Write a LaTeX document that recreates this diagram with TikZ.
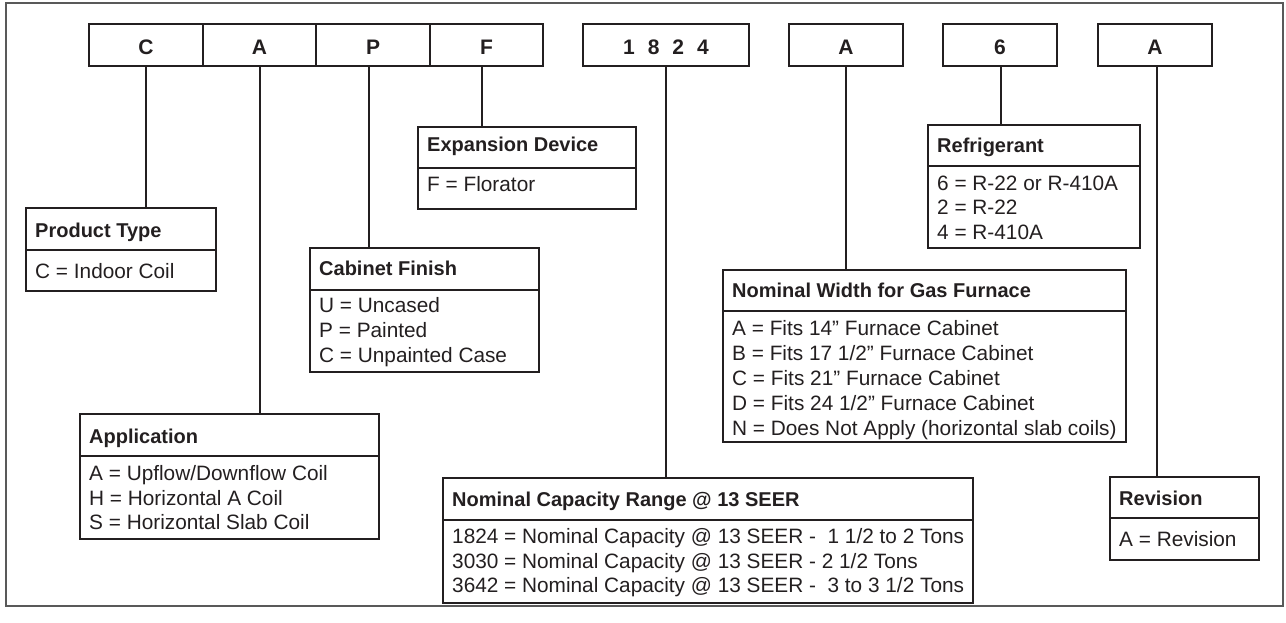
\documentclass[tikz,border=0pt]{standalone}
\usepackage{fontspec}
\setmainfont{Liberation Sans}
\definecolor{ink}{RGB}{35,31,32}
\tikzset{
  codebox/.style={draw=ink, line width=2pt, inner sep=0pt, minimum height=42pt,
    text height=18.5pt, text depth=0pt, text=ink, font=\fontsize{21}{24}\selectfont\bfseries},
  legend/.style={draw=ink, line width=2pt, inner sep=0pt},
  titletext/.style={anchor=base west, inner sep=0pt, text=ink, font=\fontsize{20}{24}\selectfont\bfseries},
  itemtext/.style={anchor=base west, inner sep=0pt, text=ink, font=\fontsize{20.8}{24}\selectfont},
  link/.style={draw=ink, line width=2pt},
  frame/.style={draw=black!65, line width=1.3pt}
}
\begin{document}
\begin{tikzpicture}[x=1pt,y=-1pt]
\useasboundingbox (0,0) rectangle (1286,622);
\draw[frame] (6,3) rectangle (1283,606);

% code boxes
\node[codebox, minimum width=114pt] (kC) at (146,45) {C};
\node[codebox, minimum width=113pt] (kA) at (259.5,45) {A};
\node[codebox, minimum width=114pt] (kP) at (373,45) {P};
\node[codebox, minimum width=113pt] (kF) at (486.5,45) {F};
\node[codebox, minimum width=166pt] (kN) at (666,45) {\spaceskip=13pt 1 8 2 4};
\node[codebox, minimum width=114pt] (kW) at (846,45) {A};
\node[codebox, minimum width=114pt] (kR) at (1000,45) {6};
\node[codebox, minimum width=114pt] (kV) at (1155,45) {A};

% legend boxes
\node[legend, minimum width=190pt, minimum height=83pt] (prod) at (121,249.5) {};
\node[legend, minimum width=299pt, minimum height=125pt] (app) at (229.5,476.5) {};
\node[legend, minimum width=229pt, minimum height=124pt] (cab) at (424.5,310) {};
\node[legend, minimum width=218pt, minimum height=82pt] (exp) at (527,168) {};
\node[legend, minimum width=530pt, minimum height=125pt] (cap) at (708,540.5) {};
\node[legend, minimum width=403pt, minimum height=172pt] (wid) at (924.5,356) {};
\node[legend, minimum width=212pt, minimum height=123pt] (ref) at (1034,186.5) {};
\node[legend, minimum width=149pt, minimum height=83pt] (rev) at (1184.5,518.5) {};

% dividers
\draw[link] (prod.west |- 0,250) -- (prod.east |- 0,250);
\draw[link] (app.west |- 0,456) -- (app.east |- 0,456);
\draw[link] (cab.west |- 0,290) -- (cab.east |- 0,290);
\draw[link] (exp.west |- 0,168) -- (exp.east |- 0,168);
\draw[link] (cap.west |- 0,520) -- (cap.east |- 0,520);
\draw[link] (wid.west |- 0,311) -- (wid.east |- 0,311);
\draw[link] (ref.west |- 0,166) -- (ref.east |- 0,166);
\draw[link] (rev.west |- 0,518) -- (rev.east |- 0,518);

% connectors
\draw[link] (kC.south) -- (kC.south |- prod.north);
\draw[link] (kA.south) -- (kA.south |- app.north);
\draw[link] ([xshift=-4pt]kP.south) -- ([xshift=-4pt]kP.south |- cab.north);
\draw[link] ([xshift=-4.5pt]kF.south) -- ([xshift=-4.5pt]kF.south |- exp.north);
\draw[link] (kN.south) -- (kN.south |- cap.north);
\draw[link] (kW.south) -- (kW.south |- wid.north);
\draw[link] ([xshift=1pt]kR.south) -- ([xshift=1pt]kR.south |- ref.north);
\draw[link] ([xshift=2pt]kV.south) -- ([xshift=2pt]kV.south |- rev.north);

% texts
\node[titletext] (prodT) at (35,237) {Product Type};
\node[itemtext] (prod1) at (35,278.5) {C = Indoor Coil};

\node[titletext] (appT) at (89,443) {Application};
\node[itemtext] (app1) at (89,480.5) {A = Upflow/Downflow Coil};
\node[itemtext] (app2) at (89,505) {H = Horizontal A Coil};
\node[itemtext] (app3) at (89,529.5) {S = Horizontal Slab Coil};

\node[titletext] (cabT) at (319,275.5) {Cabinet Finish};
\node[itemtext] (cab1) at (319,312.3) {U = Uncased};
\node[itemtext] (cab2) at (319,337) {P = Painted};
\node[itemtext] (cab3) at (319,362) {C = Unpainted Case};

\node[titletext] (expT) at (427,151) {Expansion Device};
\node[itemtext] (exp1) at (427,191.7) {F = Florator};

\node[titletext] (capT) at (452,506.5) {Nominal Capacity Range @ 13 SEER};
\node[itemtext] (cap1) at (452,543.3) {1824 = Nominal Capacity @ 13 SEER - \ 1 1/2 to 2 Tons};
\node[itemtext] (cap2) at (452,568) {3030 = Nominal Capacity @ 13 SEER - 2 1/2 Tons};
\node[itemtext] (cap3) at (452,592.7) {3642 = Nominal Capacity @ 13 SEER - \ 3 to 3 1/2 Tons};

\node[titletext] (widT) at (732,297.5) {Nominal Width for Gas Furnace};
\node[itemtext] (wid1) at (732,335) {A = Fits 14” Furnace Cabinet};
\node[itemtext] (wid2) at (732,360) {B = Fits 17 1/2” Furnace Cabinet};
\node[itemtext] (wid3) at (732,385) {C = Fits 21” Furnace Cabinet};
\node[itemtext] (wid4) at (732,410) {D = Fits 24 1/2” Furnace Cabinet};
\node[itemtext] (wid5) at (732,435) {N = Does Not Apply (horizontal slab coils)};

\node[titletext] (refT) at (937,152.6) {Refrigerant};
\node[itemtext] (ref1) at (937,190) {6 = R-22 or R-410A};
\node[itemtext] (ref2) at (937,214.5) {2 = R-22};
\node[itemtext] (ref3) at (937,239) {4 = R-410A};

\node[titletext] (revT) at (1119,505) {Revision};
\node[itemtext] (rev1) at (1119,546.7) {A = Revision};
\end{tikzpicture}
\end{document}
